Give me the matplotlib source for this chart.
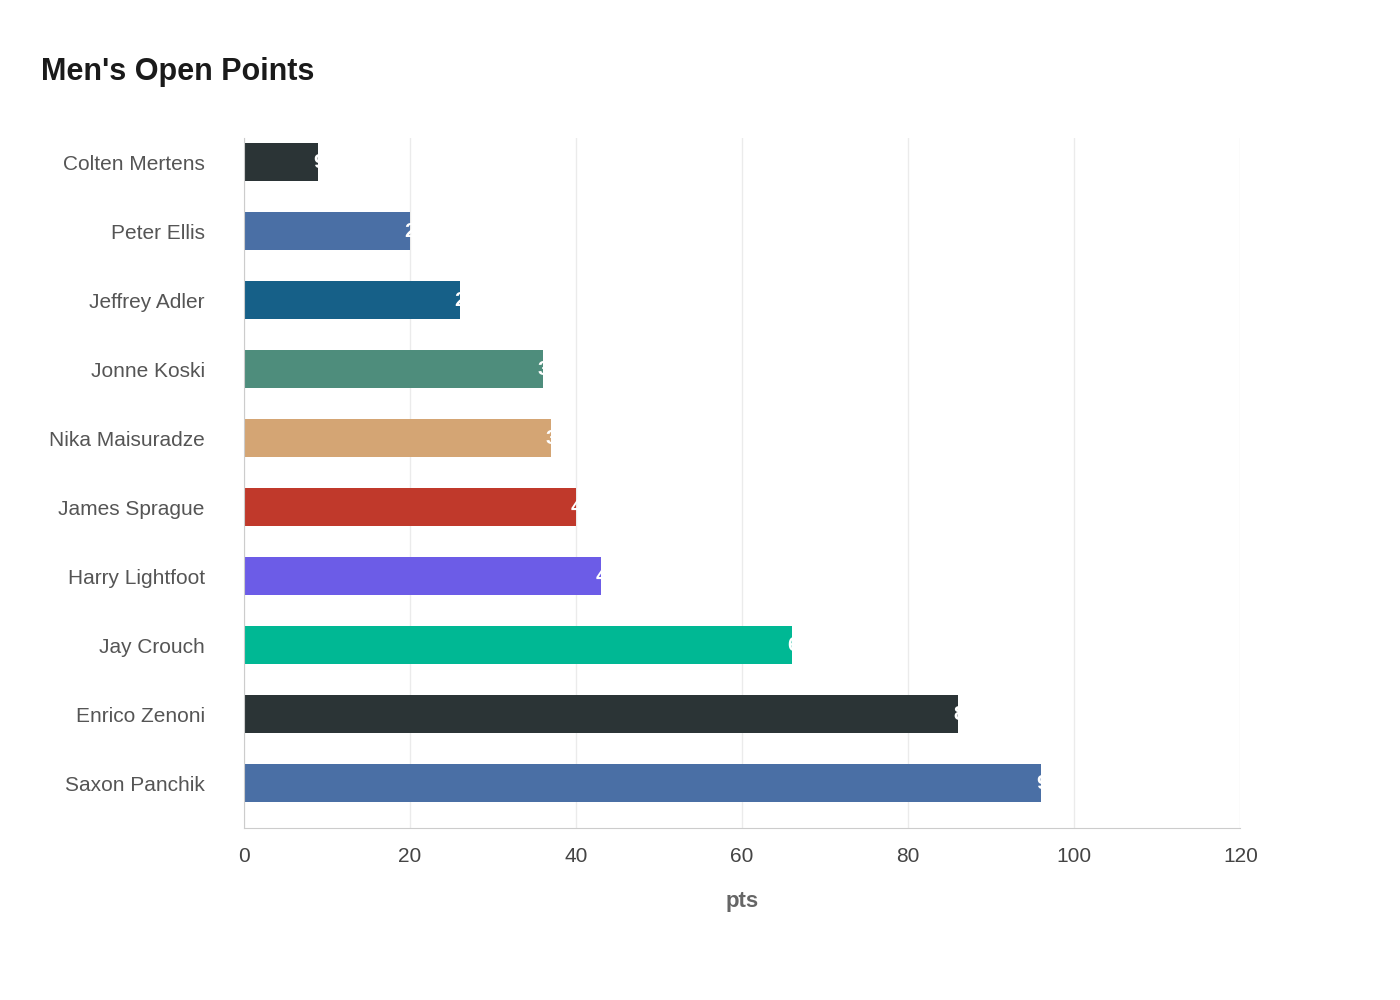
import matplotlib.pyplot as plt

names = ["Colten Mertens", "Peter Ellis", "Jeffrey Adler", "Jonne Koski", "Nika Maisuradze",
         "James Sprague", "Harry Lightfoot", "Jay Crouch", "Enrico Zenoni", "Saxon Panchik"]
points = [9, 20, 26, 36, 37, 40, 43, 66, 86, 96]
colors = ["#2b3436", "#4a6fa5", "#166088", "#4e8d7c", "#d4a574",
          "#c0392b", "#6c5ce7", "#00b894", "#2b3436", "#4a6fa5"]

plt.rcParams['font.family'] = ['Liberation Sans', 'DejaVu Sans']
fig = plt.figure(figsize=(14, 10), dpi=100)
ax = fig.add_axes([0.174, 0.172, 0.712, 0.69])

y = list(range(len(names)))
bars = ax.barh(y, points, height=0.55, color=colors, zorder=2)
for b, v in zip(bars, points):
    t = ax.text(v - 0.6, b.get_y() + b.get_height() / 2, str(v), color="white",
                fontsize=15, fontweight="bold", va="center", ha="left", zorder=3)
    t.set_clip_path(b)

ax.set_yticks(y, labels=names)
ax.invert_yaxis()
ax.set_ylim(len(names) - 0.35, -0.35)
ax.set_xlim(0, 120)
ax.set_xticks(range(0, 121, 20))
ax.grid(axis="x", color="#ebebeb", linewidth=1, zorder=0)
for s in ["top", "right"]:
    ax.spines[s].set_visible(False)
for s in ["left", "bottom"]:
    ax.spines[s].set_color("#cccccc")
ax.tick_params(axis="y", length=0, pad=28, labelsize=15, labelcolor="#555555")
ax.tick_params(axis="x", length=0, pad=14, labelsize=15, labelcolor="#444444")
ax.set_xlabel("pts", fontsize=16, fontweight="bold", color="#666666", labelpad=18)
fig.text(0.029, 0.92, "Men's Open Points", fontsize=22, fontweight="bold", color="#1a1a1a")

fig.savefig("out.png")
